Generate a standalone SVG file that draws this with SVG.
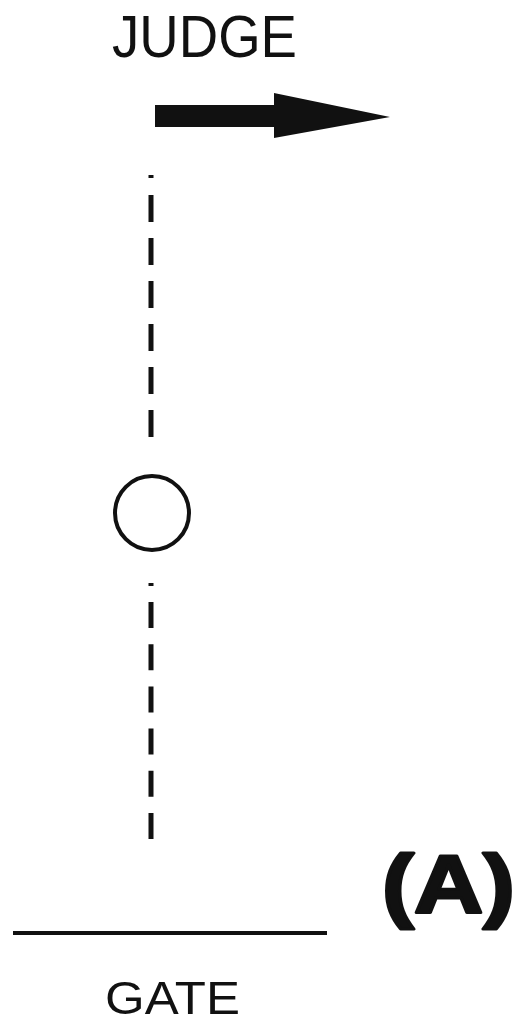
<svg xmlns="http://www.w3.org/2000/svg" width="518" height="1024" viewBox="0 0 518 1024">
<style>
.lbl{font-family:"Liberation Sans",Arial,sans-serif;fill:#111}
.dash{stroke:#111;stroke-width:5;fill:none}
</style>
<rect width="518" height="1024" fill="#fff"/>
<g id="judge">
<text class="lbl" x="112" y="57" font-size="59" textLength="185" lengthAdjust="spacingAndGlyphs">JUDGE</text>
<polygon points="155,105 274,105 274,93 390,117 274,138 274,127 155,127" fill="#111"/>
</g>
<g id="connectors">
<line class="dash" x1="151" y1="175" x2="151" y2="178"/>
<line class="dash" x1="151" y1="195" x2="151" y2="437" stroke-dasharray="27 16"/>
<line class="dash" x1="151" y1="583" x2="151" y2="586"/>
<line class="dash" x1="151" y1="602" x2="151" y2="840" stroke-dasharray="26 16.2"/>
</g>
<g id="ball">
<circle cx="152" cy="513" r="37" fill="none" stroke="#111" stroke-width="4"/>
</g>
<g id="gate">
<line x1="13" y1="933" x2="327" y2="933" stroke="#111" stroke-width="4"/>
<text class="lbl" x="105" y="1014" font-size="47" textLength="135" lengthAdjust="spacingAndGlyphs">GATE</text>
</g>
<g id="label">
<text class="lbl" x="382" y="912" font-size="82" font-weight="bold" stroke="#111" stroke-width="3" stroke-linejoin="round" textLength="133" lengthAdjust="spacingAndGlyphs">(A)</text>
</g>
</svg>
